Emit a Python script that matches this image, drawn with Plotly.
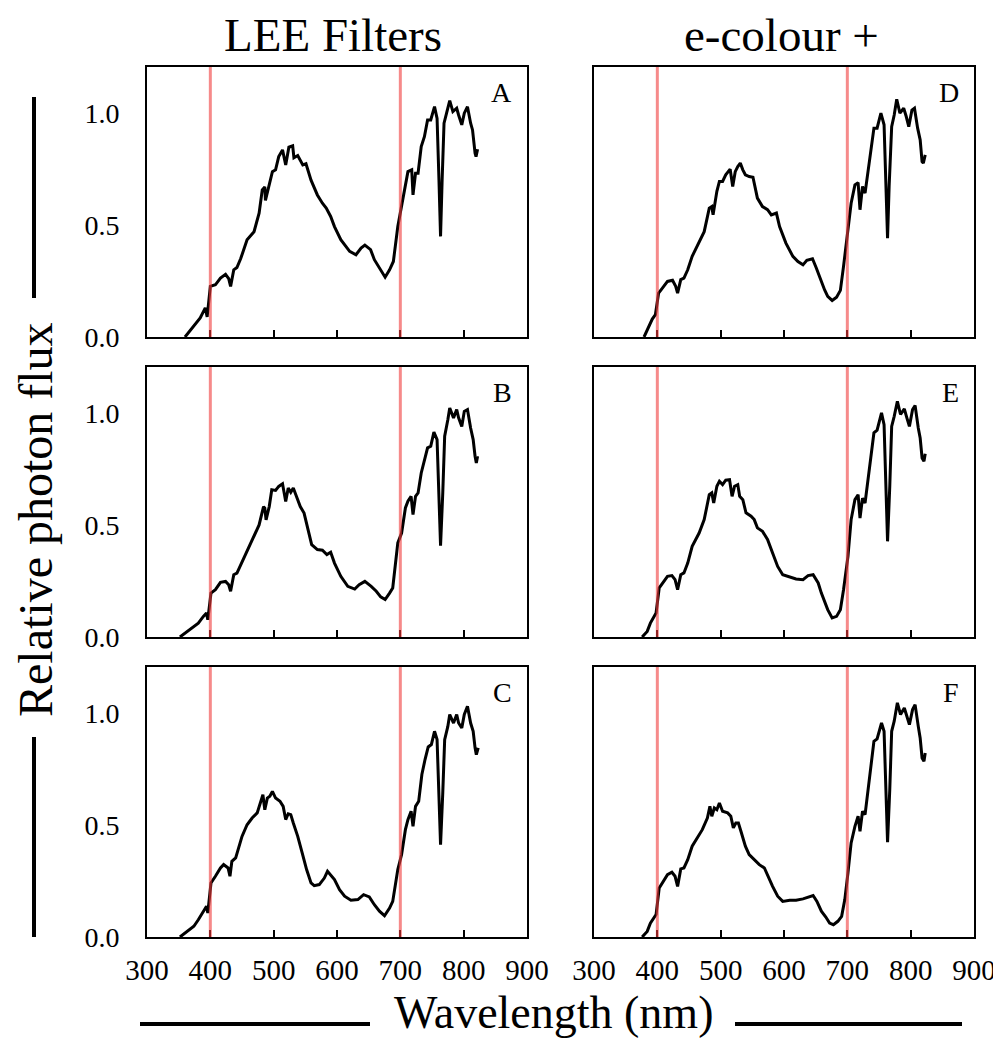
import plotly.graph_objects as go
from plotly.subplots import make_subplots

##################################
# DATA
##################################

col_titles = ["LEE Filters", "e-colour +"]
panel_letters = ["A", "B", "C", "D", "E", "F"]
band_edges = [400, 700]
x_ticks = [300, 400, 500, 600, 700, 800, 900]
y_ticks = [0.0, 0.5, 1.0]

# A - LEE Filters, top
wl_a = [360, 373.5, 384, 392, 395, 400, 408, 416, 424, 429, 432, 437, 442, 448, 458, 469, 477, 482, 486, 487,
        493, 498, 503, 508, 514, 519, 524, 530, 532, 538, 546, 551, 559, 569, 577, 583, 590, 596, 606, 620,
        630, 638, 644, 653, 659, 666, 676, 683, 689, 696, 702, 707, 712, 718, 720, 724, 728, 733, 738, 743,
        748, 754, 758, 761, 763.5, 766, 769, 773, 778, 783, 789, 792, 797, 801, 806, 811, 814, 818, 819.5, 822]
flux_a = [0, 0.05, 0.085, 0.13, 0.09, 0.226, 0.233, 0.263, 0.28, 0.26, 0.226, 0.30, 0.31, 0.35, 0.434, 0.47, 0.553, 0.657, 0.67, 0.61,
          0.686, 0.738, 0.746, 0.805, 0.835, 0.768, 0.847, 0.853, 0.80, 0.81, 0.768, 0.773, 0.70, 0.634, 0.597, 0.575, 0.538, 0.493, 0.434, 0.382,
          0.367, 0.397, 0.41, 0.39, 0.345, 0.315, 0.267, 0.30, 0.337, 0.493, 0.582, 0.672, 0.738, 0.746, 0.634, 0.731, 0.731, 0.85, 0.894, 0.969,
          0.969, 1.028, 0.976, 0.70, 0.449, 0.70, 0.954, 0.999, 1.055, 1.006, 1.021, 0.991, 0.947, 0.999, 1.028, 0.954, 0.924, 0.82, 0.805, 0.838]

# B - LEE Filters, middle
wl_b = [352, 363, 374, 381, 389, 394, 396, 401, 408, 416, 424, 429, 432, 437, 442, 448, 458, 469, 477, 484,
        486, 488, 493, 497, 503, 508, 514, 519, 523, 527, 531, 535, 542, 548, 554, 560, 569, 577, 584, 590,
        596, 606, 617, 628, 635, 644, 654, 662, 669, 676, 683, 688, 696, 702, 708, 712, 717, 720, 724, 728,
        733, 739, 743, 748, 753, 758, 761, 763.5, 767, 770, 775, 778, 784, 789, 792, 797, 801, 806, 811, 815,
        818, 820, 822]
flux_b = [0, 0.025, 0.048, 0.062, 0.092, 0.107, 0.077, 0.196, 0.211, 0.244, 0.248, 0.233, 0.204, 0.278, 0.285, 0.322, 0.389, 0.449, 0.50, 0.582,
          0.575, 0.523, 0.582, 0.657, 0.654, 0.672, 0.684, 0.605, 0.665, 0.646, 0.665, 0.635, 0.582, 0.553, 0.479, 0.412, 0.39, 0.387, 0.368, 0.378,
          0.33, 0.271, 0.226, 0.214, 0.233, 0.248, 0.226, 0.204, 0.179, 0.167, 0.196, 0.219, 0.42, 0.464, 0.576, 0.606, 0.628, 0.546, 0.628, 0.643,
          0.732, 0.807, 0.844, 0.851, 0.914, 0.881, 0.643, 0.408, 0.643, 0.896, 0.97, 1.022, 0.978, 1.015, 0.978, 0.94, 1.007, 1.015, 0.933, 0.881,
          0.807, 0.777, 0.807]

# C - LEE Filters, bottom
wl_c = [352, 363, 374, 381, 389, 394, 396, 401, 408, 416, 421, 428, 431, 434, 440, 445, 450, 458, 466, 474,
        480, 483, 486, 490, 494, 498, 503, 510, 515, 519, 523, 527, 531, 538, 545, 552, 559, 564, 572, 580,
        585, 590, 596, 604, 612, 622, 633, 642, 651, 659, 667, 675, 683, 688, 696, 702, 708, 712, 717, 720,
        724, 729, 734, 739, 744, 749, 754, 758, 761, 763.5, 767, 770, 775, 778, 784, 789, 792, 797, 801, 806,
        811, 815, 818, 820, 823]
flux_c = [0, 0.025, 0.048, 0.077, 0.115, 0.137, 0.107, 0.241, 0.271, 0.308, 0.323, 0.308, 0.271, 0.338, 0.353, 0.397, 0.449, 0.501, 0.531, 0.554,
          0.613, 0.635, 0.568, 0.62, 0.628, 0.65, 0.62, 0.606, 0.583, 0.524, 0.55, 0.546, 0.509, 0.449, 0.375, 0.301, 0.241, 0.229, 0.234, 0.263,
          0.293, 0.278, 0.256, 0.211, 0.182, 0.164, 0.167, 0.189, 0.179, 0.144, 0.115, 0.095, 0.129, 0.159, 0.301, 0.368, 0.479, 0.524, 0.561, 0.494,
          0.583, 0.606, 0.725, 0.792, 0.848, 0.859, 0.918, 0.881, 0.643, 0.412, 0.643, 0.881, 0.94, 0.993, 0.955, 0.993, 0.955, 0.933, 0.993, 1.03,
          0.955, 0.918, 0.844, 0.814, 0.844]

# D - e-colour +, top
wl_d = [379, 387, 392, 397, 402, 408, 416, 424, 429, 432, 437, 442, 448, 455, 466, 474, 482, 486, 488, 494,
        498, 503, 508, 515, 519, 523, 527, 531, 535, 539, 545, 551, 558, 566, 574, 580, 588, 593, 603, 614,
        622, 630, 636, 645, 651, 656, 664, 669, 676, 683, 689, 694, 701, 706, 712, 717, 720, 724, 728, 733,
        737, 742, 747, 753, 758, 761, 763.5, 766, 770, 774, 778, 783, 789, 793, 797, 802, 806, 811, 815, 818,
        820, 823]
flux_d = [0, 0.05, 0.08, 0.10, 0.196, 0.218, 0.248, 0.253, 0.226, 0.196, 0.256, 0.263, 0.30, 0.36, 0.426, 0.47, 0.575, 0.582, 0.545, 0.65,
          0.694, 0.694, 0.724, 0.749, 0.672, 0.738, 0.761, 0.776, 0.746, 0.724, 0.716, 0.713, 0.62, 0.582, 0.568, 0.545, 0.553, 0.493, 0.419, 0.36,
          0.337, 0.322, 0.342, 0.349, 0.308, 0.27, 0.211, 0.181, 0.163, 0.178, 0.208, 0.315, 0.471, 0.597, 0.679, 0.689, 0.568, 0.672, 0.642, 0.753,
          0.835, 0.932, 0.932, 0.999, 0.947, 0.672, 0.441, 0.672, 0.939, 0.991, 1.061, 0.999, 1.021, 0.984, 0.939, 1.013, 1.021, 0.932, 0.88, 0.783,
          0.776, 0.813]

# E - e-colour +, middle
wl_e = [376, 384, 389, 395, 398, 403, 409, 416, 423, 428, 432, 437, 442, 448, 455, 466, 474, 482, 486, 489,
        494, 498, 503, 508, 514, 518, 522, 527, 530, 535, 540, 548, 553, 558, 566, 574, 582, 590, 598, 609,
        619, 630, 638, 646, 654, 659, 664, 669, 676, 683, 689, 694, 701, 706, 712, 717, 720, 724, 728, 733,
        737, 742, 747, 754, 758, 761, 763.5, 767, 770, 774, 779, 784, 790, 794, 798, 803, 807, 812, 815, 818,
        821, 823]
flux_e = [0, 0.025, 0.062, 0.092, 0.107, 0.219, 0.241, 0.271, 0.274, 0.256, 0.211, 0.278, 0.286, 0.33, 0.405, 0.464, 0.524, 0.635, 0.643, 0.598,
          0.673, 0.695, 0.68, 0.70, 0.702, 0.628, 0.673, 0.68, 0.628, 0.613, 0.554, 0.539, 0.524, 0.487, 0.472, 0.435, 0.375, 0.315, 0.278, 0.268,
          0.259, 0.256, 0.274, 0.278, 0.241, 0.196, 0.159, 0.122, 0.085, 0.092, 0.122, 0.211, 0.36, 0.524, 0.613, 0.635, 0.531, 0.62, 0.598, 0.71,
          0.799, 0.911, 0.923, 1.0, 0.948, 0.673, 0.427, 0.673, 0.94, 0.985, 1.052, 0.993, 1.018, 0.978, 0.94, 1.015, 1.033, 0.933, 0.888, 0.799,
          0.784, 0.818]

# F - e-colour +, bottom
wl_f = [376, 384, 389, 395, 398, 403, 409, 416, 423, 428, 432, 437, 442, 448, 455, 463, 471, 479, 483, 486,
        490, 494, 498, 503, 511, 516, 520, 524, 528, 532, 539, 545, 553, 561, 569, 576, 582, 590, 598, 609,
        619, 630, 638, 646, 652, 659, 666, 672, 678, 685, 691, 696, 701, 706, 712, 717, 720, 724, 728, 733,
        737, 742, 747, 754, 758, 761, 763.5, 767, 770, 774, 779, 784, 790, 794, 798, 803, 807, 812, 815, 818,
        821, 823]
flux_f = [0, 0.025, 0.062, 0.089, 0.10, 0.219, 0.249, 0.278, 0.289, 0.271, 0.226, 0.304, 0.308, 0.345, 0.405, 0.442, 0.479, 0.531, 0.583, 0.539,
          0.576, 0.568, 0.598, 0.561, 0.554, 0.539, 0.487, 0.509, 0.509, 0.472, 0.405, 0.368, 0.345, 0.323, 0.308, 0.263, 0.226, 0.182, 0.159, 0.164,
          0.164, 0.17, 0.179, 0.185, 0.159, 0.115, 0.089, 0.062, 0.055, 0.07, 0.092, 0.167, 0.286, 0.42, 0.494, 0.539, 0.472, 0.561, 0.546, 0.658,
          0.754, 0.873, 0.884, 0.955, 0.918, 0.658, 0.423, 0.658, 0.918, 0.963, 1.045, 0.993, 1.022, 0.985, 0.948, 1.015, 1.037, 0.94, 0.888, 0.799,
          0.784, 0.821]

##################################
# PLOTTING
##################################

font_family = "Liberation Serif, Times New Roman, serif"
panels = [(wl_a, flux_a), (wl_b, flux_b), (wl_c, flux_c),
          (wl_d, flux_d), (wl_e, flux_e), (wl_f, flux_f)]

# the page body adds an 8 px margin, so the figure is 8 px smaller and
# every pixel position below is shifted by it
OFF = 8
W, H = 1001 - OFF, 1051 - OFF


def px_x(p):
    return (p - OFF) / W


def px_y(p):
    return 1 - (p - OFF) / H


col_px = [(147, 527), (594, 974)]
row_px = [(67, 337), (367, 637), (667, 937)]

fig = make_subplots(rows=3, cols=2)

for i, (wl, flux) in enumerate(panels):
    col = i // 3 + 1
    row = i % 3 + 1
    fig.add_trace(go.Scatter(x=wl, y=flux, mode="lines",
                             line=dict(color="black", width=3),
                             showlegend=False, hoverinfo="skip"),
                  row=row, col=col)
    n = (row - 1) * 2 + col
    xs = "x" if n == 1 else "x%d" % n
    ys = "y" if n == 1 else "y%d" % n
    x0, x1 = col_px[col - 1]
    y0, y1 = row_px[row - 1]
    fig.update_xaxes(domain=[px_x(x0), px_x(x1)], range=[300, 900], tickvals=x_ticks,
                     showticklabels=(row == 3), ticks="inside", ticklen=7, tickwidth=1.5,
                     tickcolor="black", showline=True, linecolor="black", linewidth=2,
                     mirror=True, showgrid=False, zeroline=False, automargin=False,
                     ticklabelstandoff=6,
                     tickfont=dict(family=font_family, size=29, color="black"),
                     row=row, col=col)
    fig.update_yaxes(domain=[px_y(y1), px_y(y0)], range=[0, 1.205], tickvals=y_ticks,
                     tickformat=".1f", showticklabels=(col == 1), ticks="", ticklabelstandoff=20,
                     showline=True, linecolor="black", linewidth=2, mirror=True,
                     showgrid=False, zeroline=False, automargin=False,
                     tickfont=dict(family=font_family, size=28, color="black"),
                     row=row, col=col)
    for edge in band_edges:
        fig.add_shape(type="line", xref=xs, yref=ys + " domain", x0=edge, x1=edge, y0=0, y1=1,
                      line=dict(color="rgba(240,60,60,0.6)", width=3), layer="above")
    fig.add_annotation(text=panel_letters[i], xref=xs + " domain", yref=ys + " domain",
                       x=0.967, y=0.905, xanchor="right", yanchor="middle", showarrow=False,
                       font=dict(family=font_family, size=28, color="black"))

# column titles
for t, cx in zip(col_titles, [333, 781]):
    fig.add_annotation(text=t, xref="paper", yref="paper", x=px_x(cx), y=px_y(35),
                       xanchor="center", yanchor="middle", showarrow=False,
                       font=dict(family=font_family, size=47, color="black"))

# axis titles with their side bars
fig.add_annotation(text="Relative photon flux", xref="paper", yref="paper", x=px_x(35), y=px_y(520),
                   textangle=-90, xanchor="center", yanchor="middle", showarrow=False,
                   font=dict(family=font_family, size=48, color="black"))
fig.add_annotation(text="Wavelength (nm)", xref="paper", yref="paper", x=px_x(553), y=px_y(1012),
                   xanchor="center", yanchor="middle", showarrow=False,
                   font=dict(family=font_family, size=46, color="black"))
bar = dict(color="black", width=4)
fig.add_shape(type="line", xref="paper", yref="paper", x0=px_x(34), x1=px_x(34), y0=px_y(97), y1=px_y(298), line=bar)
fig.add_shape(type="line", xref="paper", yref="paper", x0=px_x(34), x1=px_x(34), y0=px_y(737), y1=px_y(937), line=bar)
fig.add_shape(type="line", xref="paper", yref="paper", x0=px_x(140), x1=px_x(370), y0=px_y(1024), y1=px_y(1024), line=bar)
fig.add_shape(type="line", xref="paper", yref="paper", x0=px_x(735), x1=px_x(962), y0=px_y(1024), y1=px_y(1024), line=bar)

fig.update_layout(width=W, height=H, autosize=False, margin=dict(l=0, r=0, t=0, b=0, pad=0),
                  plot_bgcolor="white", paper_bgcolor="white")

fig.write_html("out.html")
